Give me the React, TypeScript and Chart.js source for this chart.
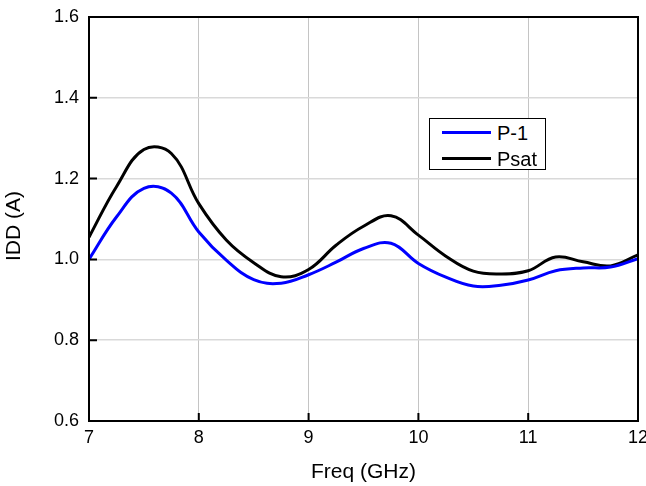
import React, { useEffect, useRef } from "react";
import { Chart, registerables } from "chart.js";

Chart.register(...registerables);

// ---- data (0.25 GHz steps) ----
const freqGHz = [7.0, 7.25, 7.5, 7.75, 8.0, 8.25, 8.5, 8.75, 9.0, 9.25, 9.5, 9.75, 10.0, 10.25, 10.5, 10.75, 11.0, 11.25, 11.5, 11.75, 12.0];
const p1Idd = [1.0, 1.105, 1.176, 1.164, 1.068, 0.998, 0.95, 0.941, 0.962, 0.993, 1.027, 1.04, 0.99, 0.956, 0.934, 0.936, 0.949, 0.972, 0.979, 0.981, 1.002];
const psatIdd = [1.055, 1.18, 1.272, 1.262, 1.138, 1.048, 0.992, 0.957, 0.975, 1.035, 1.082, 1.108, 1.06, 1.008, 0.971, 0.964, 0.972, 1.006, 0.994, 0.984, 1.011];

const xTicks = [7, 8, 9, 10, 11, 12];
const yTicks = [0.6, 0.8, 1.0, 1.2, 1.4, 1.6];

const seriesNames = ["P-1", "Psat"];
const seriesColors = ["#0000ff", "#000000"];
const yAxisTitle = "IDD (A)";
const xAxisTitle = "Freq (GHz)";

const FONT = "'Liberation Sans', Arial, sans-serif";

const framePlugin = {
  id: "frameTicks",
  afterDatasetsDraw(chart: any) {
    const { ctx, chartArea, scales } = chart;
    const { left, right, top, bottom } = chartArea;
    ctx.save();
    ctx.strokeStyle = "#000";
    ctx.lineWidth = 2;
    ctx.strokeRect(left, top, right - left, bottom - top);
    ctx.beginPath();
    for (const v of xTicks) {
      const px = scales.x.getPixelForValue(v);
      ctx.moveTo(px, bottom);
      ctx.lineTo(px, bottom - 8);
    }
    for (const v of yTicks) {
      const py = scales.y.getPixelForValue(v);
      ctx.moveTo(left, py);
      ctx.lineTo(left + 8, py);
    }
    ctx.stroke();
    // y-axis title (rotated), slightly below the axis centre as in the reference
    ctx.translate(14, (top + bottom) / 2 + 7);
    ctx.rotate(-Math.PI / 2);
    ctx.fillStyle = "#000";
    ctx.font = `21px ${FONT}`;
    ctx.textAlign = "center";
    ctx.textBaseline = "middle";
    ctx.fillText(yAxisTitle, 0, 0);
    ctx.restore();
  },
};

export default function App() {
  const canvasRef = useRef<HTMLCanvasElement | null>(null);

  useEffect(() => {
    if (!canvasRef.current) return;
    const chart = new Chart(canvasRef.current, {
      type: "line",
      data: {
        datasets: [
          {
            label: seriesNames[0],
            data: freqGHz.map((f, i) => ({ x: f, y: p1Idd[i] })),
            borderColor: seriesColors[0],
            borderWidth: 3,
            pointRadius: 0,
            tension: 0.4,
            fill: false,
          },
          {
            label: seriesNames[1],
            data: freqGHz.map((f, i) => ({ x: f, y: psatIdd[i] })),
            borderColor: seriesColors[1],
            borderWidth: 3,
            pointRadius: 0,
            tension: 0.4,
            fill: false,
          },
        ],
      },
      options: {
        animation: false,
        responsive: false,
        maintainAspectRatio: false,
        layout: { padding: { top: 17, right: 8, left: 0, bottom: 0 } },
        plugins: { legend: { display: false }, tooltip: { enabled: false } },
        scales: {
          x: {
            type: "linear",
            min: 7,
            max: 12,
            afterBuildTicks: (s: any) => {
              s.ticks = xTicks.map((v) => ({ value: v }));
            },
            ticks: {
              color: "#000",
              font: { family: FONT, size: 18 },
              padding: 6,
              maxRotation: 0,
            },
            grid: { drawTicks: false, color: "#c4c4c4", lineWidth: 1 },
            border: { display: false },
            title: {
              display: true,
              text: xAxisTitle,
              color: "#000",
              font: { family: FONT, size: 21 },
              padding: { top: 0, bottom: 1 },
            },
            afterFit: (s: any) => {
              s.height = 65;
              s.paddingLeft = 0;
              s.paddingRight = 0;
            },
          },
          y: {
            type: "linear",
            min: 0.6,
            max: 1.6,
            afterBuildTicks: (s: any) => {
              s.ticks = yTicks.map((v) => ({ value: v }));
            },
            ticks: {
              color: "#000",
              font: { family: FONT, size: 18 },
              padding: 10,
              callback: (v: any) => Number(v).toFixed(1),
            },
            grid: { drawTicks: false, color: "#d9d9d9", lineWidth: 1.5 },
            border: { display: false },
            title: { display: false },
            afterFit: (s: any) => {
              s.width = 89;
              s.paddingTop = 0;
              s.paddingBottom = 0;
            },
          },
        },
      },
      plugins: [framePlugin],
    });
    return () => chart.destroy();
  }, []);

  return (
    <div style={{ position: "absolute", left: 0, top: 0, width: 646, height: 486, background: "#fff" }}>
      <canvas ref={canvasRef} width={646} height={486} style={{ width: 646, height: 486, display: "block" }} />
      <div
        style={{
          position: "absolute",
          left: 429,
          top: 118,
          width: 115,
          height: 50,
          border: "1px solid #000",
          background: "#fff",
          fontFamily: FONT,
          fontSize: 20,
          color: "#000",
        }}
      >
        {seriesNames.map((name, i) => (
          <div key={name} style={{ position: "absolute", left: 0, top: 2 + i * 26, height: 24, width: 115 }}>
            <div
              style={{
                position: "absolute",
                left: 12,
                top: 10,
                width: 49,
                height: 3,
                background: seriesColors[i],
              }}
            />
            <span style={{ position: "absolute", left: 67, top: 0, lineHeight: "24px", whiteSpace: "nowrap" }}>{name}</span>
          </div>
        ))}
      </div>
    </div>
  );
}
